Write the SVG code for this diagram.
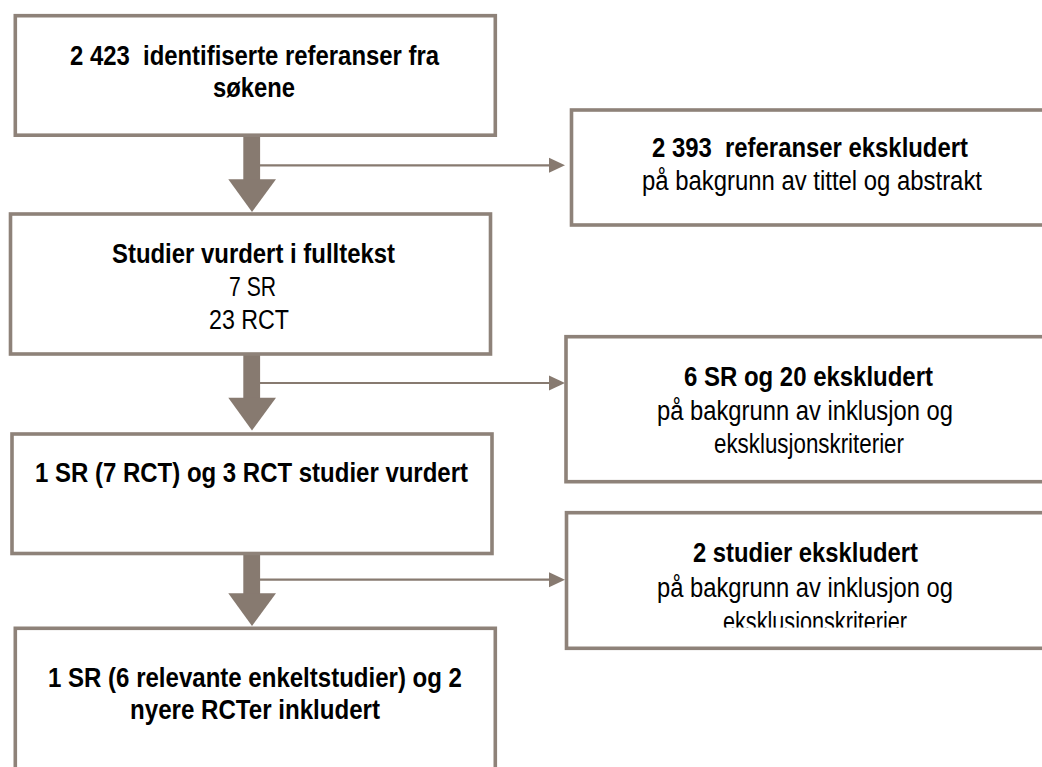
<svg xmlns="http://www.w3.org/2000/svg" width="1042" height="767" viewBox="0 0 1042 767">
<style>
.box{fill:#fff;stroke:#8E8279;stroke-width:3.6}
.t{font-family:"Liberation Sans Narrow","Liberation Sans",Arial,sans-serif;font-size:27px;fill:#000;text-anchor:middle;white-space:pre}
.b{font-weight:bold}
.shaft{fill:#877A70}
.thin{stroke:#877A70;stroke-width:2.2;fill:none}
.head{fill:#877A70}
</style>
<defs>
<clipPath id="clipR3"><rect x="566" y="512" width="480" height="115.5"/></clipPath>
</defs>
<g id="connectors">
<rect class="shaft" x="243.3" y="136" width="16.8" height="44"/>
<polygon class="head" points="228.3,179.3 276,179.3 252,212"/>
<line class="thin" x1="260" y1="165.3" x2="551" y2="165.3"/>
<polygon class="head" points="549,157.8 565,165.3 549,172.8"/>
<rect class="shaft" x="243.3" y="355" width="16.8" height="43.5"/>
<polygon class="head" points="228.3,397.7 276,397.7 252,430.5"/>
<line class="thin" x1="260" y1="383" x2="551" y2="383"/>
<polygon class="head" points="549,375.5 565,383 549,390.5"/>
<rect class="shaft" x="243.3" y="554" width="16.8" height="40"/>
<polygon class="head" points="228.3,593.3 276,593.3 252,626"/>
<line class="thin" x1="260" y1="579.7" x2="551" y2="579.7"/>
<polygon class="head" points="549,572.2 565,579.7 549,587.2"/>
</g>
<g id="box1">
<rect class="box" x="15.3" y="15.7" width="480" height="119.5"/>
<text class="t b" x="254.5" y="65" textLength="369" lengthAdjust="spacingAndGlyphs">2 423  identifiserte referanser fra</text>
<text class="t b" x="254" y="97" textLength="82" lengthAdjust="spacingAndGlyphs">søkene</text>
</g>
<g id="box2">
<rect class="box" x="10.5" y="214" width="480" height="140"/>
<text class="t b" x="253.5" y="263" textLength="283" lengthAdjust="spacingAndGlyphs">Studier vurdert i fulltekst</text>
<text class="t" x="252.5" y="296" textLength="47" lengthAdjust="spacingAndGlyphs">7 SR</text>
<text class="t" x="249" y="329" textLength="80" lengthAdjust="spacingAndGlyphs">23 RCT</text>
</g>
<g id="box3">
<rect class="box" x="12" y="434" width="480" height="119.5"/>
<text class="t b" x="251.5" y="482" textLength="433" lengthAdjust="spacingAndGlyphs">1 SR (7 RCT) og 3 RCT studier vurdert</text>
</g>
<g id="box4">
<rect class="box" x="15.3" y="628.3" width="480" height="160"/>
<text class="t b" x="255" y="687" textLength="414" lengthAdjust="spacingAndGlyphs">1 SR (6 relevante enkeltstudier) og 2</text>
<text class="t b" x="255" y="719" textLength="250" lengthAdjust="spacingAndGlyphs">nyere RCTer inkludert</text>
</g>
<g id="excl1">
<rect class="box" x="571.5" y="110" width="500" height="115"/>
<text class="t b" x="810" y="157" textLength="316" lengthAdjust="spacingAndGlyphs">2 393  referanser ekskludert</text>
<text class="t" x="812" y="190" textLength="340" lengthAdjust="spacingAndGlyphs">på bakgrunn av tittel og abstrakt</text>
</g>
<g id="excl2">
<rect class="box" x="566" y="336.7" width="500" height="145"/>
<text class="t b" x="808.5" y="386" textLength="249" lengthAdjust="spacingAndGlyphs">6 SR og 20 ekskludert</text>
<text class="t" x="805" y="420" textLength="296" lengthAdjust="spacingAndGlyphs">på bakgrunn av inklusjon og</text>
<text class="t" x="809" y="453" textLength="190" lengthAdjust="spacingAndGlyphs">eksklusjonskriterier</text>
</g>
<g id="excl3">
<rect class="box" x="566.5" y="512.7" width="500" height="135.6"/>
<text class="t b" x="805.5" y="562" textLength="225" lengthAdjust="spacingAndGlyphs">2 studier ekskludert</text>
<text class="t" x="805" y="597" textLength="296" lengthAdjust="spacingAndGlyphs">på bakgrunn av inklusjon og</text>
<text class="t" x="815" y="631" textLength="184" lengthAdjust="spacingAndGlyphs" clip-path="url(#clipR3)">eksklusjonskriterier</text>
</g>
</svg>
